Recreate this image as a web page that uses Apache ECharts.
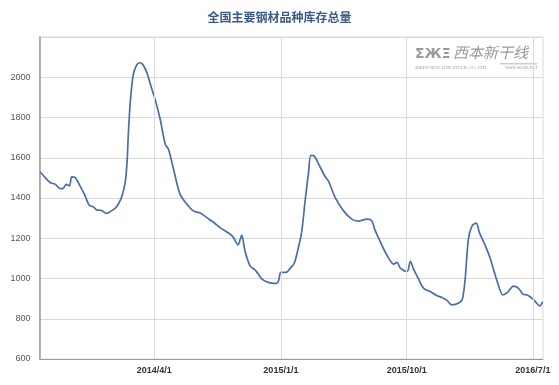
<!DOCTYPE html>
<html>
<head>
<meta charset="utf-8">
<script src="https://cdn.jsdelivr.net/npm/echarts@6/dist/echarts.min.js"></script>
<style>html,body{margin:0;padding:0;background:#fff;}#c{width:559px;height:385px;}</style>
</head>
<body>
<div id="c"></div>
<script>
var titleText = '全国主要钢材品种库存总量';
var dates = [
'2013-07-27','2013-08-03','2013-08-18','2013-08-29','2013-09-09','2013-09-16','2013-09-22','2013-09-29',
'2013-10-04','2013-10-11','2013-10-22','2013-11-02','2013-11-11','2013-11-20','2013-11-27','2013-12-08',
'2013-12-18','2013-12-26','2014-01-06','2014-01-13','2014-01-21','2014-01-28','2014-02-01','2014-02-04',
'2014-02-08','2014-02-14','2014-02-21','2014-02-28','2014-03-07','2014-03-16','2014-03-27','2014-04-03',
'2014-04-14','2014-04-25','2014-05-02','2014-05-13','2014-05-27','2014-06-11','2014-06-25','2014-07-10',
'2014-07-31','2014-08-07','2014-08-22','2014-09-13','2014-09-20','2014-09-30','2014-10-05','2014-10-08',
'2014-10-15','2014-10-26','2014-11-06','2014-11-21','2014-12-01','2014-12-12','2014-12-23','2014-12-27',
'2015-01-01','2015-01-12','2015-01-21','2015-01-30','2015-02-08','2015-02-15','2015-02-23','2015-03-02',
'2015-03-07','2015-03-14','2015-03-24','2015-04-07','2015-04-14','2015-04-29','2015-05-17','2015-06-04',
'2015-06-18','2015-07-07','2015-07-16','2015-07-25','2015-08-05','2015-08-16','2015-09-03','2015-09-10',
'2015-09-17','2015-10-02','2015-10-09','2015-10-16','2015-10-27','2015-11-07','2015-11-22','2015-12-06',
'2015-12-17','2015-12-28','2016-01-07','2016-01-22','2016-01-30','2016-02-05','2016-02-12','2016-02-20',
'2016-02-29','2016-03-07','2016-03-20','2016-03-31','2016-04-13','2016-04-27','2016-05-07','2016-05-20',
'2016-05-31','2016-06-10','2016-06-19','2016-07-03','2016-07-16','2016-07-22'
];
var values = [
1530,1513,1477,1468,1447,1449,1468,1460,
1505,1502,1460,1410,1364,1356,1341,1338,
1323,1331,1348,1369,1410,1477,1576,1725,
1874,2006,2056,2072,2064,2023,1940,1890,
1791,1667,1642,1543,1419,1369,1336,1325,
1291,1281,1253,1220,1204,1167,1196,1216,
1138,1063,1043,997,984,977,976,989,
1030,1030,1050,1076,1154,1229,1394,1526,
1612,1609,1568,1507,1485,1402,1336,1295,
1285,1295,1291,1237,1182,1129,1071,1080,
1053,1035,1085,1047,997,951,934,914,
906,890,869,878,898,997,1196,1262,
1275,1228,1162,1096,997,918,931,962,
951,921,918,894,864,884
];
var xTickLabels = ['2014-04-01','2015-01-01','2015-10-01','2016-07-01'];
var xMin = '2013-07-26';
var xMax = '2016-07-23';

function toTime(s) { return +new Date(s + 'T00:00:00'); }
var seriesData = dates.map(function (d, i) { return [toTime(d), values[i]]; });
var tickTimes = xTickLabels.map(toTime);

var chart = echarts.init(document.getElementById('c'));
chart.setOption({
  animation: false,
  backgroundColor: '#fff',
  title: {
    text: titleText,
    left: 'center',
    top: 6,
    textStyle: { fontSize: 12, fontWeight: 'bold', color: '#3B5A8A', fontFamily: 'Noto Sans CJK SC' }
  },
  grid: { left: 39.5, right: 16, top: 37, bottom: 26, show: true, borderColor: '#d9d9d9', borderWidth: 1 },
  xAxis: {
    type: 'value',
    min: toTime(xMin),
    max: toTime(xMax),
    axisLine: { show: true, lineStyle: { color: '#9a9a9a', width: 1 } },
    axisTick: { show: false, customValues: tickTimes },
    axisLabel: {
      customValues: tickTimes,
      margin: 7,
      fontSize: 9,
      fontWeight: 'bold',
      color: '#333',
      fontFamily: 'Liberation Sans',
      formatter: function (v) {
        var d = new Date(v);
        return d.getFullYear() + '/' + (d.getMonth() + 1) + '/' + d.getDate();
      }
    },
    splitLine: { show: false }
  },
  yAxis: {
    type: 'value',
    min: 600,
    max: 2200,
    interval: 200,
    axisLine: { show: true, lineStyle: { color: '#9a9a9a', width: 1.5 } },
    axisTick: { show: false },
    axisLabel: {
      showMaxLabel: false, margin: 9, fontSize: 9, color: '#555', fontFamily: 'Liberation Sans',
      formatter: function (v) { return String(v); }
    },
    splitLine: { show: true, lineStyle: { color: '#d9d9d9', width: 1 } }
  },
  graphic: [
    { type: 'text', left: 415, top: 47, style: { text: 'ΣЖΞ', fontSize: 14, fontWeight: 'bold', fill: '#9a9a9a', fontFamily: 'DejaVu Sans' } },
    { type: 'text', left: 453, top: 45, style: { text: '西本新干线', fontSize: 15, fontStyle: 'italic', fill: '#9a9a9a', fontFamily: 'Noto Sans CJK SC' } },
    { type: 'rect', shape: { x: 500, y: 63.5, width: 37, height: 0.8 }, style: { fill: '#9a9a9a' } },
    { type: 'text', left: 415, top: 65, style: { text: 'XIBEN NEW LINE STOCK CO., LTD.', fontSize: 4.5, fill: '#9a9a9a', fontFamily: 'Liberation Serif' } },
    { type: 'text', left: 505, top: 65, style: { text: 'WWW.96369.NET', fontSize: 4.5, fontStyle: 'italic', fill: '#9a9a9a', fontFamily: 'Liberation Serif' } }
  ],
  series: [{
    type: 'line',
    data: seriesData,
    showSymbol: false,
    smooth: 0.3,
    z: 3,
    lineStyle: { color: '#4A6FA5', width: 1.7 },
    itemStyle: { color: '#4A6FA5' }
  }, {
    type: 'line',
    data: [],
    silent: true,
    z: 1,
    markLine: {
      silent: true,
      animation: false,
      symbol: ['none', 'none'],
      label: { show: false },
      emphasis: { disabled: true },
      lineStyle: { color: '#dcdcdc', width: 1, type: 'solid' },
      data: tickTimes.map(function (t) { return [{ coord: [t, 600] }, { coord: [t, 2200] }]; })
    }
  }]
});
</script>
</body>
</html>
